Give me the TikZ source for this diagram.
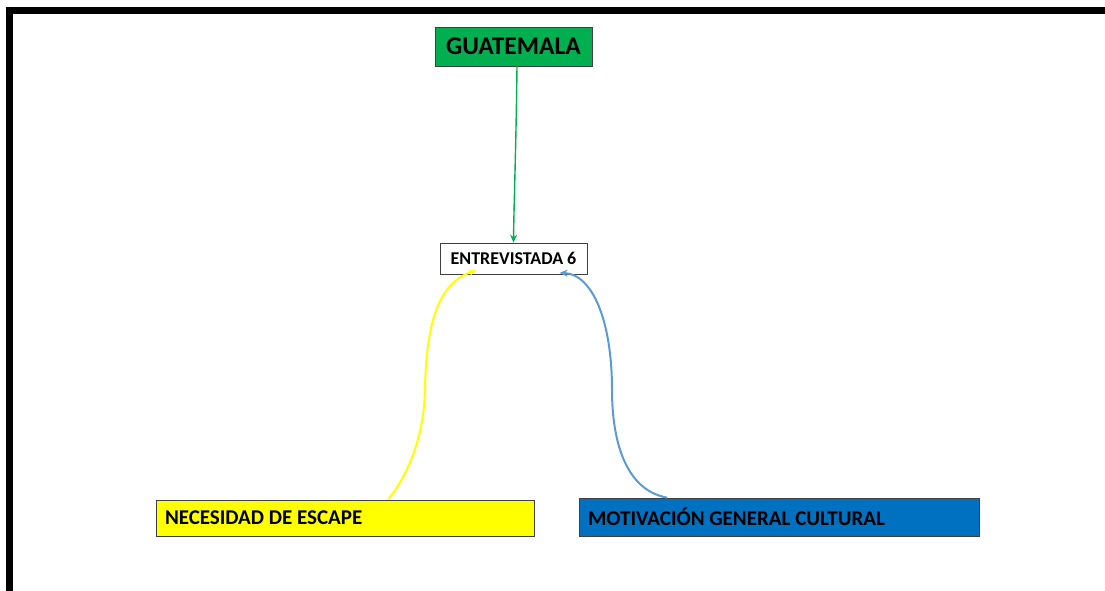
\documentclass[tikz,border=0pt]{standalone}
\usepackage{fontspec}
\setmainfont{Carlito}
\usetikzlibrary{arrows.meta,calc}
\definecolor{gtgreen}{HTML}{00B050}
\definecolor{escyellow}{HTML}{FFFF00}
\definecolor{motblue}{HTML}{0070C0}
\definecolor{lineblue}{HTML}{5B9BD5}
\definecolor{boxedge}{HTML}{404040}
\tikzset{
  box/.style={draw=boxedge, line width=0.8pt, inner sep=0pt, font=\bfseries},
  link/.style={line width=2pt, -{Stealth[length=8pt,width=7pt]}},
}
\begin{document}
\begin{tikzpicture}[x=1pt,y=-1pt]
\useasboundingbox (0,0) rectangle (1105,591);
\fill[white] (0,0) rectangle (1105,591);
% frame
\fill[black] (6,7) rectangle (1105,14);
\fill[black] (6,7) rectangle (13,591);
% nodes
\node[box, fill=gtgreen, minimum width=157pt, minimum height=39pt, font=\bfseries\fontsize{25.5}{27}\selectfont] (gt) at (513.5,46.5) {GUATEMALA};
\node[box, fill=white, minimum width=147pt, minimum height=31pt, font=\bfseries\fontsize{18}{20}\selectfont] (ent) at (513.5,258.5) {ENTREVISTADA 6};
\node[box, fill=escyellow, minimum width=378pt, minimum height=36pt, font=\bfseries\fontsize{21}{23}\selectfont] (nec) at (345,518) {\makebox[360pt][l]{NECESIDAD DE ESCAPE}};
\node[box, fill=motblue, minimum width=400pt, minimum height=38pt, font=\bfseries\fontsize{21}{23}\selectfont] (mot) at (779,517) {\makebox[382pt][l]{MOTIVACIÓN GENERAL CULTURAL}};
% connectors
\draw[link, draw=gtgreen, line width=1.4pt] ([xshift=3.5pt]gt.south) .. controls (516,150) and (514,200) .. (ent.north);
\draw[link, draw=escyellow] ([xshift=43pt]nec.north) .. controls (412,470) and (424,430) .. (425,390)
   .. controls (426,320) and (440,282) .. ([xshift=-37pt,yshift=4pt]ent.south);
\draw[link, draw=lineblue] ([xshift=-112pt]mot.north) .. controls (625,490) and (612,440) .. (612,390)
   .. controls (612,320) and (592,274) .. ([xshift=46pt,yshift=1.5pt]ent.south);
\end{tikzpicture}
\end{document}
